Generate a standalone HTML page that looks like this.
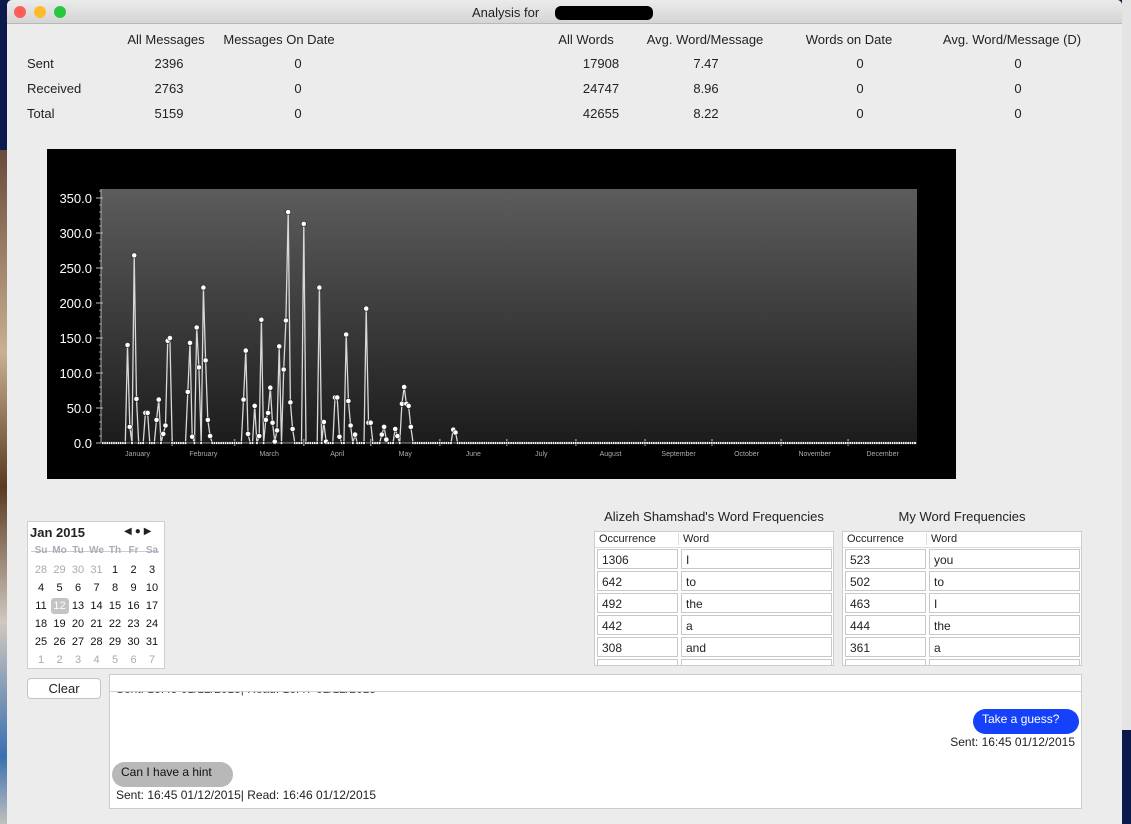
<!DOCTYPE html>
<html><head><meta charset="utf-8">
<style>
*{box-sizing:border-box}
body{margin:0;width:1131px;height:824px;overflow:hidden;background:#0b1a4a;font-family:"Liberation Sans",sans-serif;position:relative}
.abs{position:absolute}
#win{left:7px;top:0;width:1115px;height:824px;background:#ececec;border-radius:5px 5px 0 0;overflow:hidden}
#title{left:0;top:0;width:1115px;height:24px;background:linear-gradient(#ebebeb,#d5d5d5);border-bottom:1px solid #b8b8b8}
.light{top:6px;width:12px;height:12px;border-radius:50%}
.t{font-size:13px;color:#222;white-space:nowrap}
.c{transform:translateX(-50%)}
.cell{background:#fff;border:1px solid #c8c8c8;font-size:12px;padding:3px 4px;color:#222}
</style></head><body>
<div class="abs" style="left:0;top:150px;width:7px;height:674px;background:linear-gradient(#6a4a3a,#c8b090 30%,#5a3a20 50%,#d0c8c0 70%,#3a70b0 90%,#c0c0c0)"></div>
<div class="abs" style="left:1122px;top:0;width:9px;height:730px;background:#e4e4e4"></div>
<div id="win" class="abs">
 <div id="title" class="abs">
  <div class="abs light" style="left:7px;background:#fc5f57"></div>
  <div class="abs light" style="left:27px;background:#fdbc2e"></div>
  <div class="abs light" style="left:47px;background:#29c73f"></div>
  <div class="abs t" style="left:465px;top:5px">Analysis for</div>
  <div class="abs" style="left:548px;top:6px;width:98px;height:14px;background:#000;border-radius:6px"></div>
 </div>
</div>
<div id="stats">
 <span class="abs t c" style="left:166px;top:32px">All Messages</span>
 <span class="abs t c" style="left:279px;top:32px">Messages On Date</span>
 <span class="abs t c" style="left:586px;top:32px">All Words</span>
 <span class="abs t c" style="left:705px;top:32px">Avg. Word/Message</span>
 <span class="abs t c" style="left:849px;top:32px">Words on Date</span>
 <span class="abs t c" style="left:1012px;top:32px">Avg. Word/Message (D)</span>
 <span class="abs t" style="left:27px;top:56px">Sent</span>
 <span class="abs t" style="left:27px;top:81px">Received</span>
 <span class="abs t" style="left:27px;top:106px">Total</span>
 <span class="abs t c" style="left:169px;top:56px">2396</span>
 <span class="abs t c" style="left:169px;top:81px">2763</span>
 <span class="abs t c" style="left:169px;top:106px">5159</span>
 <span class="abs t c" style="left:298px;top:56px">0</span>
 <span class="abs t c" style="left:298px;top:81px">0</span>
 <span class="abs t c" style="left:298px;top:106px">0</span>
 <span class="abs t c" style="left:601px;top:56px">17908</span>
 <span class="abs t c" style="left:601px;top:81px">24747</span>
 <span class="abs t c" style="left:601px;top:106px">42655</span>
 <span class="abs t c" style="left:706px;top:56px">7.47</span>
 <span class="abs t c" style="left:706px;top:81px">8.96</span>
 <span class="abs t c" style="left:706px;top:106px">8.22</span>
 <span class="abs t c" style="left:860px;top:56px">0</span>
 <span class="abs t c" style="left:860px;top:81px">0</span>
 <span class="abs t c" style="left:860px;top:106px">0</span>
 <span class="abs t c" style="left:1018px;top:56px">0</span>
 <span class="abs t c" style="left:1018px;top:81px">0</span>
 <span class="abs t c" style="left:1018px;top:106px">0</span>
</div>

<svg class="abs" style="left:47px;top:149px" width="909" height="330" id="chart">
 <defs><linearGradient id="pg" x1="0" y1="0" x2="0" y2="1"><stop offset="0" stop-color="#5c5c5c"/><stop offset="1" stop-color="#1c1c1c"/></linearGradient></defs>
 <rect width="909" height="330" fill="#000"/>
 <g id="plot"></g>
</svg>

<div class="abs" style="left:27px;top:521px;width:138px;height:148px;background:#fff;border:1px solid #cfcfcf">
 <div class="abs" style="left:2px;top:3px;font-size:13px;font-weight:bold;color:#222">Jan 2015</div>
 <div class="abs" style="left:96px;top:4px;font-size:10px;color:#222;letter-spacing:3px">◀●▶</div>
 <div class="abs" style="left:3px;top:29px;width:128px;height:1px;background:#ccc"></div>
 <div id="cal"></div>
</div>
<div class="abs" style="left:27px;top:678px;width:74px;height:21px;background:#fff;border:1px solid #c4c4c4;border-radius:4px;font-size:13px;text-align:center;line-height:19px;color:#222">Clear</div>

<div class="abs t c" style="left:714px;top:509px">Alizeh Shamshad's Word Frequencies</div>
<div class="abs t c" style="left:962px;top:509px">My Word Frequencies</div>
<div id="t1" class="abs" style="left:594px;top:531px;width:240px;height:135px;background:#fff;border:1px solid #cdcdcd;overflow:hidden"></div>
<div id="t2" class="abs" style="left:842px;top:531px;width:240px;height:135px;background:#fff;border:1px solid #cdcdcd;overflow:hidden"></div>

<div class="abs" style="left:109px;top:674px;width:973px;height:135px;background:#fff;border:1px solid #cdcdcd;overflow:hidden">
 <div class="abs" style="left:0;top:16px;width:973px;height:1px;background:#d0d0d0"></div>
 <div class="abs" style="left:6px;top:7px;font-size:12px;color:#444;clip-path:inset(10px 0 0 0)">Sent: 16:45 01/12/2015| Read: 16:47 01/12/2015</div>
 <div class="abs" style="left:863px;top:34px;width:106px;height:25px;border-radius:13px;background:#1641fb;color:#fff;font-size:12px;padding:3px 0 0 9px">Take a guess?</div>
 <div class="abs" style="left:830px;top:60px;width:135px;text-align:right;font-size:12px;color:#222">Sent: 16:45 01/12/2015</div>
 <div class="abs" style="left:2px;top:87px;width:121px;height:25px;border-radius:13px;background:#b8b8b8;color:#111;font-size:12px;padding:3px 0 0 9px">Can I have a hint</div>
 <div class="abs" style="left:6px;top:113px;font-size:12px;color:#222">Sent: 16:45 01/12/2015| Read: 16:46 01/12/2015</div>
</div>

<script>
const activeDays=[11,12,14,15,19,20,24,25,27,28,29,30,38,39,40,42,43,45,46,47,48,63,64,65,68,70,71,73,74,75,76,77,78,79,81,82,83,84,85,90,97,99,100,104,105,106,109,110,111,113,118,119,120,125,126,127,131,132,134,135,136,137,138,157,158];
const activeValues=[140,23,268,63,43,43,33,62,13,25,146,150,73,143,9,165,108,222,118,33,10,62,132,13,53,10,176,33,43,79,29,2,18,138,105,175,330,58,20,313,222,30,2,65,65,9,155,60,25,12,192,29,29,12,23,5,20,10,56,80,56,53,23,19,15];
const yTicks=[0,50,100,150,200,250,300,350];
const months=["January","February","March","April","May","June","July","August","September","October","November","December"];
const monthStarts=[0,31,59,90,120,151,181,212,243,273,304,334];
const totalDays=365;

const NS="http://www.w3.org/2000/svg";
const ox=47, oy=149;
const X0=103-ox, X1=915-ox, Y0=443-oy, YTOP=189-oy;
const xs=d=>X0+(d/(totalDays-1))*(X1-X0);
const ys=v=>Y0-v*0.7;
const g=document.getElementById('plot');
function mk(tag,attrs){const e=document.createElementNS(NS,tag);for(const k in attrs)e.setAttribute(k,attrs[k]);g.appendChild(e);return e;}
const bg=mk('rect',{x:X0-2,y:YTOP,width:X1-X0+4,height:Y0-YTOP,fill:'url(#pg)'});


const ax=mk('line',{x1:X0-2,y1:YTOP,x2:X0-2,y2:Y0,stroke:'#aaa','stroke-width':1});


for(let v=0;v<=360;v+=10){mk('line',{x1:X0-4,x2:X0-1,y1:ys(v),y2:ys(v),stroke:'#999'});}
yTicks.forEach(v=>{
 const t=mk('text',{x:X0-11,y:ys(v)+5,fill:'#fff','font-size':13,'text-anchor':'end','font-family':'Liberation Sans'});
 t.textContent=v.toFixed(1);
 
 
 mk('line',{x1:X0-7,x2:X0,y1:ys(v),y2:ys(v),stroke:'#bbb'});
});
const xa=mk('line',{x1:X0-2,y1:Y0,x2:X1+2,y2:Y0,stroke:'#999'});


months.forEach((m,i)=>{
 const s=monthStarts[i], e=i<11?monthStarts[i+1]:totalDays;
 if(i>0)mk('line',{x1:xs(s),x2:xs(s),y1:Y0-4,y2:Y0+3,stroke:'#888','stroke-width':1.5});
 const t=mk('text',{x:xs((s+e)/2),y:Y0+13,fill:'#aaa','font-size':7,'text-anchor':'middle','font-family':'Liberation Sans'});
 t.textContent=m;
 
 
});
const series=[];
for(let d=0;d<totalDays;d++){const k=activeDays.indexOf(d);series.push(k>=0?activeValues[k]:0);}
const pts=series.map((v,d)=>xs(d).toFixed(1)+','+ys(v).toFixed(1)).join(' ');
const line=mk('polyline',{points:pts,fill:'none',stroke:'#d8d8d8','stroke-width':1.3});


series.forEach((v,d)=>{
 const c=mk('circle',{cx:xs(d),cy:ys(v),r:v>0?2.6:1.4,fill:'#fff',stroke:'#222','stroke-width':0.6});
 
 
});

const cal=document.getElementById('cal');
const heads=["Su","Mo","Tu","We","Th","Fr","Sa"];
const days=[28,29,30,31,1,2,3,4,5,6,7,8,9,10,11,12,13,14,15,16,17,18,19,20,21,22,23,24,25,26,27,28,29,30,31,1,2,3,4,5,6,7];
heads.forEach((h,i)=>{const e=document.createElement('div');e.className='abs';e.style.cssText=`left:${4+i*18.5}px;top:23px;width:18px;text-align:center;font-size:10px;font-weight:bold;color:#aab`;e.textContent=h;


cal.appendChild(e);});
days.forEach((d,i)=>{const r=Math.floor(i/7),c=i%7;const out=(i<4||i>=35);const sel=(i===15);
const e=document.createElement('div');e.className='abs';
e.style.cssText=`left:${4+c*18.5}px;top:${40+r*18}px;width:18px;height:16px;text-align:center;font-size:11px;line-height:16px;color:${out?'#aaa':(sel?'#fff':'#111')};${sel?'background:#c4c4c4;border-radius:3px;':''}`;
e.textContent=d;


cal.appendChild(e);});

function table(id,occ,words){
 const t=document.getElementById(id);
 const h=document.createElement('div');h.className='abs';h.style.cssText='left:4px;top:1px;font-size:11px;color:#222;';h.textContent='Occurrence';
 
 
 t.appendChild(h);
 const h2=document.createElement('div');h2.className='abs';h2.style.cssText='left:83px;top:1px;font-size:11px;color:#222;border-left:1px solid #ddd;padding-left:4px';h2.textContent='Word';
 
 
 t.appendChild(h2);
 const hl=document.createElement('div');hl.className='abs';hl.style.cssText='left:0;top:15px;width:240px;height:1px;background:#ddd';t.appendChild(hl);
 for(let i=0;i<6;i++){
  const a=document.createElement('div');a.className='abs cell';a.style.cssText=`left:2px;top:${17+i*22}px;width:81px;height:20px`;a.textContent=occ[i]||'';
  
  
  t.appendChild(a);
  const b=document.createElement('div');b.className='abs cell';b.style.cssText=`left:86px;top:${17+i*22}px;width:151px;height:20px`;b.textContent=words[i]||'';
  
  
  t.appendChild(b);
 }
}
table('t1',['1306','642','492','442','308'],['I','to','the','a','and']);
table('t2',['523','502','463','444','361'],['you','to','I','the','a']);
</script>
</body></html>
